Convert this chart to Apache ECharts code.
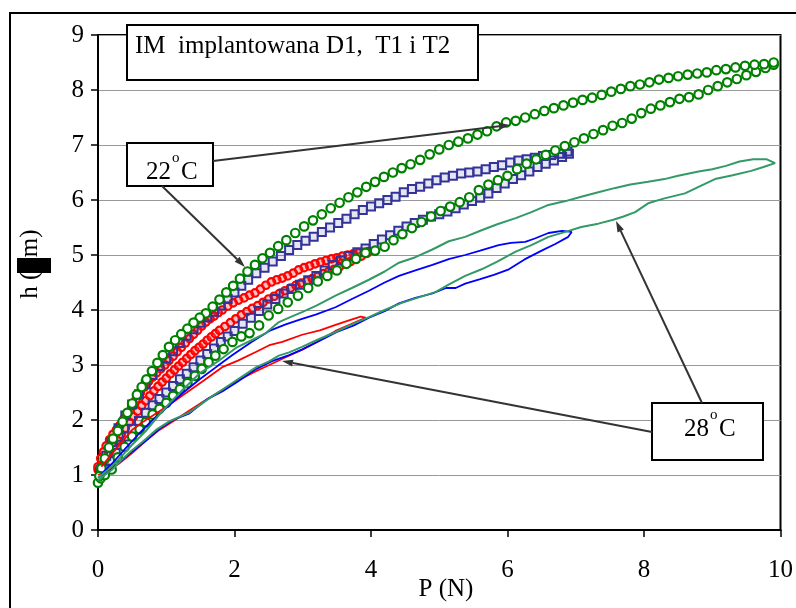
<!DOCTYPE html>
<html>
<head>
<meta charset="utf-8">
<script src="https://cdn.jsdelivr.net/npm/echarts@6/dist/echarts.min.js"></script>
<style>
html, body { margin: 0; padding: 0; background: #fff; }
#chart { width: 796px; height: 608px; }
</style>
</head>
<body>
<div id="chart"></div>
<script>
// Indentation depth h (µm) against load P (N): loading and unloading branches.
// 22 °C runs are drawn with markers, 28 °C runs with plain lines.

// 22 °C, max load 4 N (red circles)
const red22LoadP = [0.00,0.05,0.10,0.16,0.22,0.28,0.34,0.40,0.46,0.52,0.58,0.64,0.70,0.76,0.82,0.88,0.94,1.00,1.06,1.12,1.18,1.24,1.30,1.36,1.42,1.48,1.54,1.60,1.66,1.72,1.78,1.86,1.94,2.02,2.10,2.18,2.26,2.34,2.42,2.50,2.58,2.66,2.74,2.82,2.90,2.98,3.06,3.14,3.22,3.30,3.38,3.46,3.54,3.62,3.70,3.78,3.86,3.94];
const red22LoadH = [1.10,1.18,1.28,1.40,1.52,1.63,1.74,1.85,1.96,2.06,2.16,2.26,2.35,2.44,2.53,2.61,2.69,2.76,2.84,2.91,2.98,3.05,3.12,3.19,3.26,3.32,3.38,3.45,3.51,3.57,3.63,3.70,3.77,3.84,3.91,3.97,4.03,4.08,4.14,4.20,4.25,4.30,4.35,4.40,4.45,4.49,4.53,4.57,4.61,4.66,4.70,4.74,4.79,4.84,4.88,4.93,4.98,5.03];
const red22UnloadP = [0.00,0.04,0.08,0.12,0.17,0.22,0.27,0.32,0.38,0.44,0.50,0.56,0.62,0.68,0.74,0.80,0.86,0.92,0.98,1.04,1.10,1.16,1.22,1.28,1.34,1.40,1.46,1.52,1.58,1.64,1.70,1.76,1.82,1.90,1.98,2.06,2.14,2.22,2.30,2.38,2.46,2.54,2.62,2.70,2.78,2.86,2.94,3.02,3.10,3.18,3.26,3.34,3.42,3.50,3.58,3.66,3.74,3.82,3.90,3.96];
const red22UnloadH = [1.15,1.30,1.42,1.53,1.64,1.74,1.82,1.90,2.02,2.14,2.26,2.38,2.49,2.60,2.70,2.78,2.86,2.93,3.00,3.08,3.16,3.24,3.32,3.40,3.48,3.56,3.63,3.71,3.78,3.84,3.89,3.95,4.00,4.07,4.13,4.18,4.22,4.27,4.31,4.38,4.45,4.51,4.55,4.58,4.62,4.67,4.73,4.77,4.80,4.84,4.87,4.90,4.93,4.95,4.98,5.00,5.02,5.04,5.05,5.06];

// 22 °C, max load 7 N (blue squares)
const blue22LoadP = [0.03,0.10,0.18,0.26,0.34,0.42,0.50,0.60,0.70,0.80,0.90,1.00,1.10,1.20,1.30,1.40,1.50,1.60,1.70,1.80,1.90,2.00,2.12,2.24,2.36,2.48,2.60,2.72,2.84,2.96,3.08,3.20,3.32,3.44,3.56,3.68,3.80,3.92,4.04,4.16,4.28,4.40,4.52,4.64,4.76,4.88,5.00,5.12,5.24,5.36,5.48,5.60,5.72,5.84,5.96,6.08,6.20,6.32,6.44,6.56,6.68,6.80,6.90];
const blue22LoadH = [1.05,1.12,1.25,1.40,1.55,1.70,1.84,1.98,2.13,2.27,2.38,2.50,2.62,2.74,2.84,2.96,3.08,3.20,3.30,3.42,3.52,3.62,3.75,3.86,3.98,4.10,4.20,4.30,4.38,4.46,4.54,4.62,4.72,4.82,4.90,4.98,5.05,5.12,5.20,5.28,5.36,5.44,5.52,5.58,5.64,5.70,5.74,5.79,5.85,5.92,5.98,6.04,6.12,6.22,6.30,6.38,6.45,6.52,6.60,6.66,6.72,6.78,6.84];
const blue22UnloadP = [0.05,0.12,0.20,0.30,0.40,0.50,0.60,0.70,0.80,0.90,1.00,1.10,1.20,1.30,1.40,1.50,1.60,1.70,1.80,1.90,2.00,2.10,2.20,2.32,2.44,2.56,2.68,2.80,2.92,3.04,3.16,3.28,3.40,3.52,3.64,3.76,3.88,4.00,4.12,4.24,4.36,4.48,4.60,4.72,4.84,4.96,5.08,5.20,5.32,5.44,5.56,5.68,5.80,5.92,6.04,6.16,6.28,6.40,6.52,6.64,6.76,6.88];
const blue22UnloadH = [1.10,1.35,1.60,1.85,2.08,2.28,2.47,2.65,2.82,2.98,3.12,3.25,3.40,3.53,3.65,3.77,3.87,3.97,4.08,4.20,4.32,4.44,4.55,4.67,4.77,4.88,4.98,5.09,5.18,5.26,5.33,5.42,5.50,5.58,5.66,5.74,5.82,5.88,5.94,6.00,6.06,6.14,6.20,6.24,6.30,6.36,6.41,6.44,6.48,6.50,6.52,6.56,6.60,6.63,6.68,6.72,6.74,6.77,6.80,6.82,6.84,6.88];

// 22 °C, max load 10 N (green circles)
const green22LoadP = [0.00,0.04,0.10,0.20,0.29,0.39,0.50,0.61,0.70,0.80,0.90,1.00,1.10,1.20,1.31,1.42,1.52,1.62,1.72,1.84,1.97,2.10,2.22,2.36,2.50,2.64,2.78,2.93,3.08,3.22,3.36,3.50,3.64,3.78,3.92,4.06,4.20,4.33,4.46,4.60,4.74,4.88,5.02,5.16,5.30,5.44,5.58,5.72,5.86,6.00,6.14,6.28,6.42,6.56,6.70,6.84,6.98,7.12,7.26,7.40,7.54,7.68,7.82,7.96,8.10,8.24,8.38,8.52,8.66,8.80,8.94,9.08,9.22,9.36,9.50,9.64,9.78,9.90];
const green22LoadH = [0.86,0.94,1.00,1.10,1.32,1.51,1.70,1.83,1.96,2.10,2.20,2.31,2.44,2.56,2.67,2.80,2.93,3.05,3.17,3.29,3.42,3.52,3.58,3.72,3.90,4.02,4.14,4.26,4.40,4.52,4.62,4.72,4.84,4.93,5.04,5.08,5.15,5.27,5.38,5.49,5.60,5.70,5.80,5.88,5.96,6.05,6.18,6.28,6.36,6.44,6.56,6.66,6.74,6.82,6.90,6.98,7.05,7.12,7.20,7.27,7.35,7.40,7.48,7.58,7.66,7.72,7.78,7.84,7.87,7.92,8.00,8.07,8.14,8.20,8.27,8.33,8.40,8.46];
const green22UnloadP = [0.02,0.05,0.10,0.16,0.22,0.29,0.36,0.43,0.50,0.57,0.64,0.71,0.79,0.87,0.95,1.04,1.13,1.22,1.31,1.40,1.49,1.58,1.68,1.78,1.88,1.98,2.08,2.19,2.30,2.41,2.52,2.64,2.76,2.89,3.02,3.15,3.28,3.41,3.54,3.67,3.80,3.93,4.06,4.19,4.32,4.45,4.58,4.72,4.86,5.00,5.14,5.28,5.42,5.56,5.70,5.84,5.98,6.12,6.26,6.40,6.54,6.68,6.82,6.96,7.10,7.24,7.38,7.52,7.66,7.80,7.94,8.08,8.22,8.36,8.50,8.64,8.78,8.92,9.06,9.20,9.34,9.48,9.62,9.76,9.90];
const green22UnloadH = [0.98,1.12,1.30,1.50,1.66,1.80,1.97,2.13,2.30,2.46,2.60,2.74,2.89,3.04,3.18,3.33,3.45,3.56,3.66,3.77,3.86,3.94,4.06,4.19,4.32,4.44,4.57,4.70,4.82,4.94,5.04,5.16,5.27,5.40,5.52,5.63,5.74,5.85,5.95,6.05,6.14,6.24,6.33,6.42,6.50,6.58,6.65,6.73,6.83,6.92,7.00,7.06,7.12,7.19,7.25,7.34,7.41,7.44,7.50,7.56,7.62,7.67,7.72,7.77,7.82,7.86,7.91,7.97,8.02,8.07,8.10,8.14,8.19,8.22,8.25,8.28,8.30,8.32,8.36,8.38,8.41,8.44,8.46,8.47,8.50];

// 28 °C, max load 4 N (red line)
const red28LoadP = [0.00,0.15,0.30,0.50,0.70,0.90,1.09,1.30,1.55,1.80,2.05,2.30,2.51,2.75,2.99,3.25,3.48,3.70,3.92];
const red28LoadH = [1.00,1.08,1.20,1.40,1.62,1.82,1.97,2.14,2.34,2.53,2.72,2.88,3.00,3.14,3.28,3.45,3.62,3.74,3.86];
const red28UnloadP = [0.05,0.20,0.35,0.50,0.65,0.85,1.05,1.29,1.55,1.82,2.05,2.32,2.51,2.70,2.99,3.25,3.48,3.70,3.85];
const red28UnloadH = [1.15,1.38,1.60,1.82,1.96,2.12,2.28,2.49,2.72,2.96,3.08,3.24,3.36,3.42,3.55,3.63,3.73,3.82,3.88];

// 28 °C, max load 7 N (blue line)
const blue28LoadP = [0.00,0.15,0.30,0.50,0.70,0.90,1.10,1.34,1.60,1.82,2.05,2.32,2.55,2.80,2.99,3.25,3.50,3.75,3.97,4.20,4.41,4.65,4.90,5.10,5.24,5.38,5.60,5.80,6.02,6.25,6.50,6.70,6.89];
const blue28LoadH = [0.95,1.05,1.22,1.42,1.62,1.84,2.00,2.12,2.38,2.52,2.70,2.93,3.07,3.18,3.28,3.44,3.60,3.72,3.86,3.98,4.12,4.22,4.30,4.40,4.40,4.48,4.56,4.64,4.74,4.92,5.08,5.20,5.33];
const blue28UnloadP = [0.05,0.20,0.40,0.60,0.80,1.00,1.25,1.50,1.75,1.97,2.25,2.51,2.75,2.99,3.20,3.48,3.72,3.97,4.20,4.41,4.65,4.90,5.15,5.38,5.60,5.87,6.05,6.26,6.40,6.60,6.80,6.94];
const blue28UnloadH = [1.02,1.20,1.48,1.75,2.00,2.22,2.50,2.75,2.98,3.18,3.42,3.62,3.74,3.84,3.92,4.05,4.20,4.35,4.50,4.62,4.72,4.82,4.93,5.00,5.08,5.18,5.22,5.24,5.30,5.40,5.44,5.42];

// 28 °C, max load 10 N (sea-green line)
const teal28LoadP = [0.00,0.10,0.20,0.35,0.50,0.65,0.85,1.05,1.20,1.34,1.50,1.66,1.82,2.00,2.16,2.32,2.50,2.65,2.80,2.99,3.20,3.48,3.72,3.97,4.20,4.45,4.70,4.95,5.15,5.38,5.62,5.85,6.12,6.35,6.60,6.85,7.08,7.33,7.55,7.70,7.87,8.06,8.30,8.60,8.80,9.04,9.30,9.57,9.75,9.92];
const teal28LoadH = [0.90,1.00,1.09,1.28,1.45,1.60,1.82,1.98,2.06,2.14,2.28,2.42,2.55,2.70,2.83,2.96,3.06,3.17,3.23,3.33,3.45,3.60,3.74,3.87,4.00,4.13,4.23,4.33,4.47,4.62,4.74,4.88,5.06,5.18,5.33,5.42,5.51,5.57,5.64,5.70,5.78,5.94,6.03,6.12,6.24,6.38,6.45,6.53,6.60,6.67];
const teal28UnloadP = [0.00,0.15,0.30,0.50,0.70,0.90,1.09,1.25,1.49,1.75,2.02,2.25,2.46,2.65,2.80,2.99,3.20,3.48,3.72,3.97,4.20,4.41,4.65,4.90,5.14,5.38,5.62,5.85,6.12,6.35,6.60,6.85,7.08,7.33,7.58,7.80,8.06,8.30,8.50,8.80,9.00,9.20,9.40,9.60,9.80];
const teal28UnloadH = [0.95,1.10,1.28,1.55,1.80,2.10,2.36,2.56,2.85,3.06,3.31,3.45,3.58,3.78,3.86,3.96,4.08,4.26,4.40,4.55,4.70,4.86,4.96,5.10,5.25,5.33,5.45,5.56,5.67,5.78,5.91,5.98,6.06,6.14,6.22,6.28,6.33,6.38,6.44,6.52,6.56,6.62,6.70,6.74,6.74];

// Axis ticks
const xTicks = [0, 2, 4, 6, 8, 10];
const yTicks = [0, 1, 2, 3, 4, 5, 6, 7, 8, 9];

const FONT = '"Liberation Serif", "Times New Roman", serif';

function pairs(ps, hs) {
  const n = Math.min(ps.length, hs.length);
  const out = [];
  for (let i = 0; i < n; i++) out.push([ps[i], hs[i]]);
  return out;
}
// loading branch followed by the unloading branch walked back to zero load
function loop(lp, lh, up, uh) {
  return pairs(lp, lh).concat(pairs(up, uh).reverse());
}

function arrow(x1, y1, x2, y2) {
  const a = Math.atan2(y2 - y1, x2 - x1), L = 11, W = 3.5;
  const bx = x2 - L * Math.cos(a), by = y2 - L * Math.sin(a);
  const nx = -Math.sin(a) * W, ny = Math.cos(a) * W;
  return [
    { type: 'line', z: 100, shape: { x1: x1, y1: y1, x2: bx, y2: by },
      style: { stroke: '#333', lineWidth: 2 } },
    { type: 'polygon', z: 100, shape: { points: [[x2, y2], [bx + nx, by + ny], [bx - nx, by - ny]] },
      style: { fill: '#333' } }
  ];
}

function boxText(x, y, w, h) {
  return { type: 'rect', z: 100, shape: { x: x, y: y, width: w, height: h },
           style: { fill: '#fff', stroke: '#000', lineWidth: 2 } };
}
function txt(x, y, s, size, align) {
  return { type: 'text', z: 101, x: x, y: y,
           style: { text: s, font: size + 'px ' + FONT, fill: '#000',
                    align: align || 'left', verticalAlign: 'middle' } };
}

const chart = echarts.init(document.getElementById('chart'), null, { renderer: 'canvas' });

const graphics = [
  // outer frame
  { type: 'rect', z: 1, shape: { x: 10, y: 13, width: 820, height: 640 },
    style: { fill: 'none', stroke: '#000', lineWidth: 2 } },
  // title box
  boxText(127, 25, 351, 55),
  txt(135, 46, 'IM  implantowana D1,  T1 i T2', 25),
  // 22 °C label
  boxText(127, 143, 86, 43),
  txt(146, 172, '22', 25),
  txt(172, 158, 'o', 15),
  txt(181, 172, 'C', 25),
  // 28 °C label
  boxText(652, 403, 111, 57),
  txt(684, 429, '28', 25),
  txt(710, 415, 'o', 15),
  txt(719, 429, 'C', 25),
  // axis titles
  { type: 'text', z: 101, x: 30, y: 264, rotation: Math.PI / 2,
    style: { text: 'h (µm)', font: '25px ' + FONT, fill: '#000', align: 'center', verticalAlign: 'middle' } },
  { type: 'rect', z: 102, shape: { x: 17, y: 258, width: 34, height: 15 }, style: { fill: '#000' } },
  txt(446, 589, 'P (N)', 25, 'center')
]
  .concat(arrow(213, 161, 510, 125))
  .concat(arrow(162, 186, 245, 267))
  .concat(arrow(652, 432, 282, 361))
  .concat(arrow(702, 403, 616, 221));

chart.setOption({
  animation: false,
  backgroundColor: '#fff',
  grid: { left: 98, top: 35, width: 685, height: 495, show: true,
          borderColor: '#000', borderWidth: 2, backgroundColor: 'transparent' },
  xAxis: {
    type: 'value', min: xTicks[0], max: xTicks[xTicks.length - 1], interval: 2,
    axisLine: { show: true, onZero: false, lineStyle: { color: '#000', width: 2 } },
    axisTick: { show: true, inside: false, length: 7, lineStyle: { color: '#000', width: 1.5 } },
    axisLabel: { color: '#000', fontFamily: FONT, fontSize: 25, margin: 28 },
    splitLine: { show: false }
  },
  yAxis: {
    type: 'value', min: yTicks[0], max: yTicks[yTicks.length - 1], interval: 1,
    axisLine: { show: true, onZero: false, lineStyle: { color: '#000', width: 2 } },
    axisTick: { show: true, inside: false, length: 7, lineStyle: { color: '#000', width: 1.5 } },
    axisLabel: { color: '#000', fontFamily: FONT, fontSize: 25, margin: 14 },
    splitLine: { show: true, lineStyle: { color: '#999', width: 1 } }
  },
  series: [
    { name: '22°C 4 N', type: 'scatter', symbol: 'circle', symbolSize: 7.5,
      itemStyle: { color: 'rgba(255,80,80,0.35)', borderColor: '#ff0000', borderWidth: 2.2, opacity: 1 },
      data: loop(red22LoadP, red22LoadH, red22UnloadP, red22UnloadH) },
    { name: '22°C 7 N', type: 'scatter', symbol: 'rect', symbolSize: 8,
      itemStyle: { color: 'rgba(51,51,153,0.12)', borderColor: '#333399', borderWidth: 2, opacity: 1 },
      data: loop(blue22LoadP, blue22LoadH, blue22UnloadP, blue22UnloadH) },
    { name: '22°C 10 N', type: 'scatter', symbol: 'circle', symbolSize: 8.5,
      itemStyle: { color: '#fff', borderColor: '#008000', borderWidth: 2.2, opacity: 1 },
      data: loop(green22LoadP, green22LoadH, green22UnloadP, green22UnloadH) },
    { name: '28°C 4 N', type: 'line', showSymbol: false, smooth: false,
      lineStyle: { color: '#ff0000', width: 1.8 },
      data: loop(red28LoadP, red28LoadH, red28UnloadP, red28UnloadH) },
    { name: '28°C 7 N', type: 'line', showSymbol: false, smooth: false,
      lineStyle: { color: '#0000ff', width: 1.8 },
      data: loop(blue28LoadP, blue28LoadH, blue28UnloadP, blue28UnloadH) },
    { name: '28°C 10 N', type: 'line', showSymbol: false, smooth: false,
      lineStyle: { color: '#339966', width: 2 },
      data: loop(teal28LoadP, teal28LoadH, teal28UnloadP, teal28UnloadH) }
  ],
  graphic: { elements: graphics }
});
</script>
</body>
</html>
